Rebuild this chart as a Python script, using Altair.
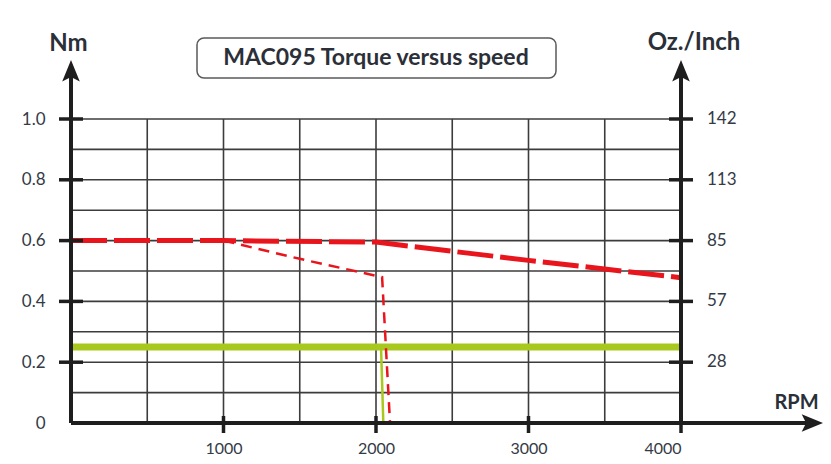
import altair as alt
import pandas as pd

# ---- data ----
rpm_cont = [0, 1000, 2000, 3000, 4000]
torque_cont = [0.60, 0.60, 0.595, 0.535, 0.478]

rpm_peak = [1000, 1500, 2040, 2092]
torque_peak = [0.60, 0.54, 0.48, 0.0]

rpm_green_h = [0, 4000]
torque_green_h = [0.25, 0.25]
rpm_green_v = [2033, 2048]
torque_green_v = [0.25, 0.0]

x_grid = [500, 1000, 1500, 2000, 2500, 3000, 3500]
y_grid = [0.1, 0.2, 0.3, 0.4, 0.5, 0.6, 0.7, 0.8, 0.9, 1.0]
x_ticks = [1000, 2000, 3000, 4000]
y_ticks = [0.2, 0.4, 0.6, 0.8, 1.0]
y_labels_left = [0, 0.2, 0.4, 0.6, 0.8, 1.0]
oz_values = [0.2, 0.4, 0.6, 0.8, 1.0]
oz_labels = ["28", "57", "85", "113", "142"]

title_text = "MAC095 Torque versus speed"
FONT = "Lato"
LABEL_COLOR = "#343a46"
TITLE_COLOR = "#2b2f38"
W, H = 610, 304

xs = alt.Scale(domain=[0, 4000], nice=False, zero=False)
ys = alt.Scale(domain=[0, 1], nice=False, zero=False)

base_x = alt.X("rpm:Q", scale=xs, axis=alt.Axis(
    values=x_ticks, format="d", ticks=False, domain=False, grid=False,
    labelFont=FONT, labelFontSize=16, labelColor=LABEL_COLOR, labelPadding=17,
    title="RPM", titleFont=FONT, titleFontSize=20, titleFontWeight="bold",
    titleColor=TITLE_COLOR, titleX=725, titleY=-15, titleAlign="center",
    titleBaseline="alphabetic"))
base_y = alt.Y("nm:Q", scale=ys, axis=alt.Axis(
    values=y_labels_left, labelExpr="datum.value == 0 ? '0' : format(datum.value, '.1f')",
    ticks=False, domain=False, grid=False,
    labelFont=FONT, labelFontSize=17, labelColor=LABEL_COLOR, labelPadding=26,
    title="Nm", titleFont=FONT, titleFontSize=24, titleFontWeight="bold",
    titleColor=TITLE_COLOR, titleAngle=0, titleX=-3, titleY=-69,
    titleAlign="center", titleBaseline="alphabetic"))

grid_color = "#3c3c3c"

grid_h = alt.Chart(pd.DataFrame({"nm": y_grid})).mark_rule(
    color=grid_color, strokeWidth=1.6).encode(
    y=base_y, x=alt.datum(0, scale=xs), x2=alt.datum(4000))
grid_v = alt.Chart(pd.DataFrame({"rpm": x_grid})).mark_rule(
    color=grid_color, strokeWidth=1.6).encode(
    x=base_x, y=alt.datum(0, scale=ys), y2=alt.datum(1))

def dfi(x, y):
    return pd.DataFrame({"rpm": x, "nm": y, "idx": list(range(len(x)))})

def line(data, color, width, dash=None):
    kw = dict(color=color, strokeWidth=width, clip=False, strokeCap="butt")
    if dash:
        kw["strokeDash"] = dash
    return alt.Chart(data).mark_line(**kw).encode(
        x=alt.X("rpm:Q", scale=xs), y=alt.Y("nm:Q", scale=ys), order=alt.Order("idx:Q"))

green_h = line(dfi(rpm_green_h, torque_green_h), "#a8c81e", 7)
green_v = line(dfi(rpm_green_v, torque_green_v), "#a8c81e", 2.5)
red_peak = line(dfi(rpm_peak, torque_peak), "#e8151d", 2.5, [11, 7])
red_cont = line(dfi(rpm_cont, torque_cont), "#e8151d", 5, [36, 7])

# axis lines
axis_color = "#1e1e1e"
yaxes = pd.DataFrame({"rpm": [0, 4000], "nm": [0, 0], "top": [1.16, 1.16]})
vaxes = alt.Chart(yaxes).mark_rule(color=axis_color, strokeWidth=4, clip=False).encode(
    x=alt.X("rpm:Q", scale=xs), y=alt.Y("nm:Q", scale=ys), y2="top:Q")
haxis = alt.Chart(pd.DataFrame({"rpm": [0], "end": [4840], "nm": [0]})).mark_rule(
    color=axis_color, strokeWidth=4, clip=False).encode(
    x=alt.X("rpm:Q", scale=xs), x2="end:Q", y=alt.Y("nm:Q", scale=ys))

arrow_shape = "M0,-1 L0.8,0.95 L0,0.55 L-0.8,0.95 Z"
up_arrows = alt.Chart(pd.DataFrame({"rpm": [0, 4000], "nm": [1.158, 1.158]})).mark_point(
    shape=arrow_shape, size=484, filled=True, color=axis_color, opacity=1, clip=False).encode(
    x=alt.X("rpm:Q", scale=xs), y=alt.Y("nm:Q", scale=ys))
right_arrow = alt.Chart(pd.DataFrame({"rpm": [4860], "nm": [0]})).mark_point(
    shape=arrow_shape, size=484, filled=True, color=axis_color, opacity=1, angle=90,
    clip=False).encode(x=alt.X("rpm:Q", scale=xs), y=alt.Y("nm:Q", scale=ys))

# ticks crossing the axes
lt = alt.Chart(pd.DataFrame({"nm": y_ticks})).mark_rule(
    color=axis_color, strokeWidth=3.5).encode(
    y=alt.Y("nm:Q", scale=ys), x=alt.value(-12), x2=alt.value(12))
rt = alt.Chart(pd.DataFrame({"nm": y_ticks})).mark_rule(
    color=axis_color, strokeWidth=3.5).encode(
    y=alt.Y("nm:Q", scale=ys), x=alt.value(W - 12), x2=alt.value(W + 12))
bt = alt.Chart(pd.DataFrame({"rpm": x_ticks})).mark_rule(
    color=axis_color, strokeWidth=3.5).encode(
    x=alt.X("rpm:Q", scale=xs), y=alt.value(H - 7), y2=alt.value(H + 10))

# right axis labels
rlab = alt.Chart(pd.DataFrame({"nm": oz_values, "lab": oz_labels, "rpm": [4000] * 5})).mark_text(
    align="left", baseline="middle", dx=26, font=FONT, fontSize=17, color=LABEL_COLOR).encode(
    x=alt.X("rpm:Q", scale=xs), y=alt.Y("nm:Q", scale=ys), text="lab:N")
rtitle = alt.Chart(pd.DataFrame({"t": ["Oz./Inch"]})).mark_text(
    align="center", baseline="alphabetic", font=FONT, fontSize=24, fontWeight="bold",
    color=TITLE_COLOR).encode(x=alt.value(W + 13), y=alt.value(-69), text="t:N")

# title box
box = alt.Chart(pd.DataFrame({"t": [title_text]})).mark_rect(
    fill="white", stroke="#5a5a5a", strokeWidth=1.5, cornerRadius=7).encode(
    x=alt.value(126), x2=alt.value(485), y=alt.value(-81), y2=alt.value(-41))
ttext = alt.Chart(pd.DataFrame({"t": [title_text]})).mark_text(
    align="center", baseline="middle", font=FONT, fontSize=23, fontWeight="bold",
    color=TITLE_COLOR).encode(x=alt.value(305), y=alt.value(-61), text="t:N")

chart = alt.layer(
    grid_h, grid_v, green_h, green_v, red_peak, red_cont,
    vaxes, haxis, up_arrows, right_arrow, lt, rt, bt, rlab, rtitle, box, ttext
).properties(
    width=W, height=H,
    autosize=alt.AutoSizeParams(type="none"),
    padding={"left": 63, "top": 111, "right": 142, "bottom": 33},
    background="white",
).configure_view(stroke=None)

chart.save("out.html", embed_options={"renderer": "svg", "actions": False})
